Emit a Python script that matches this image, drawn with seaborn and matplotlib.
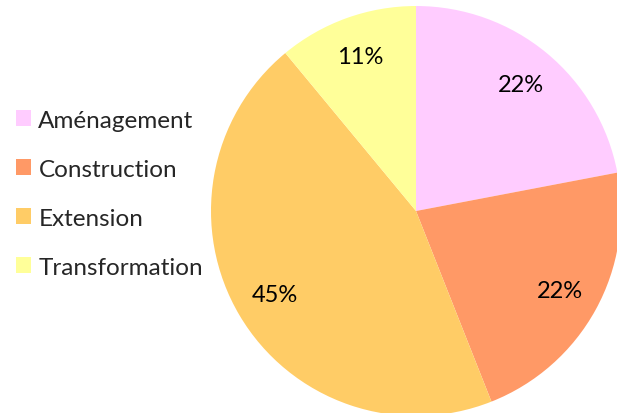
import matplotlib
matplotlib.use("Agg")
import matplotlib.pyplot as plt
import seaborn as sns

# data
categories = ["Aménagement", "Construction", "Extension", "Transformation"]
shares = [22, 22, 45, 11]
colors = ["#FFCCFF", "#FF9966", "#FFCC66", "#FFFF99"]

sns.set_theme(style="white")
plt.rcParams["font.family"] = ["Lato", "DejaVu Sans"]

fig = plt.figure(figsize=(6.17, 4.14), dpi=100)
ax = fig.add_axes([0, 0, 1, 1])

# pie drawn in pixel-like coordinates so it sits where the original does
wedges, texts, autotexts = ax.pie(
    shares, colors=colors, startangle=90, counterclock=False,
    center=(416, 202), radius=205, autopct="%.0f%%", pctdistance=0.8,
    wedgeprops=dict(linewidth=0), textprops=dict(fontsize=17, color="black"),
)
ax.set_xlim(0, 617)
ax.set_ylim(0, 414)
ax.axis("off")

fig.legend(wedges, categories, loc="center left", bbox_to_anchor=(0.026, 0.53),
           frameon=False, fontsize=17.5, handlelength=0.62, handleheight=0.62,
           handletextpad=0.3, labelspacing=1.15, borderpad=0, borderaxespad=0)

fig.savefig("out.png", dpi=100)
